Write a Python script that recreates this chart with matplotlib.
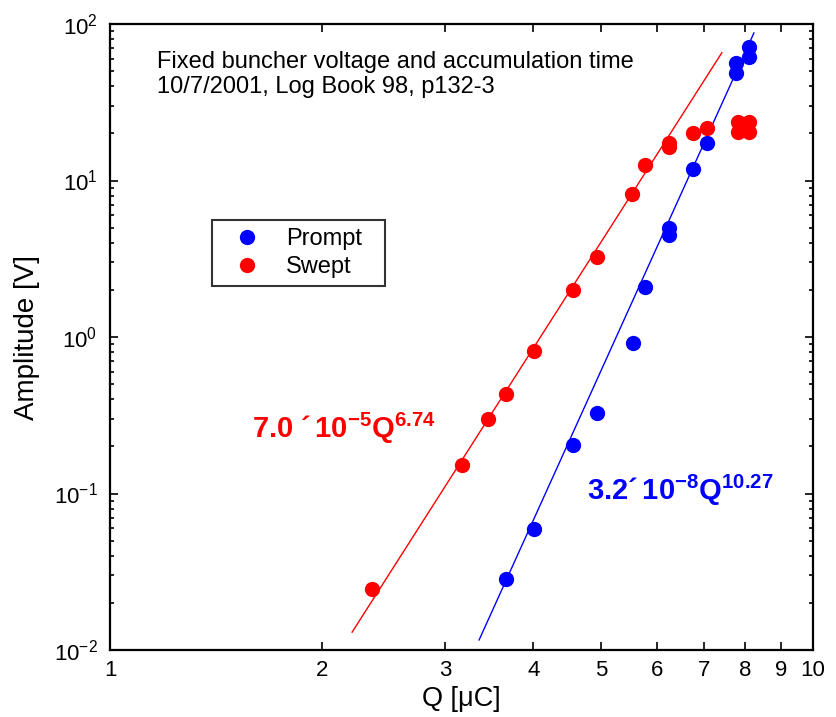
import numpy as np
from matplotlib import pyplot as plt
from matplotlib.ticker import FixedLocator, LogLocator, NullFormatter, NullLocator

plt.rcParams['font.family'] = ['Liberation Sans', 'DejaVu Sans']
plt.rcParams['mathtext.fontset'] = 'custom'
plt.rcParams['mathtext.rm'] = 'Liberation Sans'
plt.rcParams['mathtext.bf'] = 'Liberation Sans:bold'
plt.rcParams['mathtext.default'] = 'regular'

# prompt signal amplitude vs charge
prompt_q = [3.66, 4.01, 4.56, 4.93, 5.55, 5.77, 6.24, 6.24, 6.75, 7.07, 7.77, 7.77, 8.11, 8.11]
prompt_amp = [0.0284, 0.0593, 0.204, 0.327, 0.916, 2.08, 4.97, 4.49, 11.8, 17.4, 56.4, 48.6, 71.3, 61.5]

# swept signal amplitude vs charge
swept_q = [2.36, 3.17, 3.45, 3.66, 4.01, 4.56, 4.93, 5.53, 5.77, 6.24, 6.24, 6.75, 7.07, 7.82, 7.82, 8.11, 8.11]
swept_amp = [0.0245, 0.152, 0.299, 0.432, 0.814, 2.0, 3.24, 8.2, 12.6, 16.4, 17.4, 20.1, 21.6, 23.7, 20.4, 23.7, 20.4]

# power law fit lines (end points)
prompt_fit_q = [3.35, 8.24]
prompt_fit_amp = [0.0116, 87.6]
swept_fit_q = [2.21, 7.42]
swept_fit_amp = [0.0130, 65.6]

x_ticks = [1, 2, 3, 4, 5, 6, 7, 8, 9, 10]

fig = plt.figure(figsize=(8.36, 7.17), dpi=100)
ax = fig.add_axes([110 / 836, 67 / 717, 703 / 836, 626 / 717])

ax.plot(swept_fit_q, swept_fit_amp, '-', color='red', lw=1)
ax.plot(prompt_fit_q, prompt_fit_amp, '-', color='blue', lw=1)
ax.plot(prompt_q, prompt_amp, 'o', color='blue', ms=11, mec='none', label='Prompt')
ax.plot(swept_q, swept_amp, 'o', color='red', ms=11, mec='none', label='Swept')

ax.set_xscale('log')
ax.set_yscale('log')
ax.set_xlim(1, 10)
ax.set_ylim(1e-2, 1e2)

ax.xaxis.set_major_locator(FixedLocator(x_ticks))
ax.xaxis.set_minor_locator(NullLocator())
ax.set_xticklabels([str(t) for t in x_ticks])
ax.yaxis.set_major_locator(LogLocator(base=10))
ax.yaxis.set_minor_locator(LogLocator(base=10, subs=np.arange(2, 10)))
ax.yaxis.set_minor_formatter(NullFormatter())

ax.tick_params(which='both', direction='in', top=True, right=True, labelsize=16, width=1.2)
ax.tick_params(which='major', length=6)
ax.tick_params(which='minor', length=3)
ax.tick_params(axis='x', pad=7)
ax.tick_params(axis='y', pad=9)
for s in ax.spines.values():
    s.set_linewidth(1.6)

ax.set_xlabel('Q [μC]', fontsize=19.5, labelpad=4)
ax.set_ylabel('Amplitude [V]', fontsize=20, labelpad=10)

ax.text(0.067, 0.957, 'Fixed buncher voltage and accumulation time\n10/7/2001, Log Book 98, p132-3',
        transform=ax.transAxes, fontsize=17, va='top', ha='left', linespacing=1.2)

ax.text(0.202, 0.339, r'$\mathbf{7.0\;´\,10^{-5}Q^{6.74}}$', transform=ax.transAxes,
        color='red', fontsize=21, va='baseline', ha='left')
ax.text(0.6785, 0.240, r'$\mathbf{3.2´\,10^{-8}Q^{10.27}}$', transform=ax.transAxes,
        color='blue', fontsize=21, va='baseline', ha='left')

leg = ax.legend(loc='upper left', bbox_to_anchor=(0.145, 0.585, 0.246, 0.102), mode='expand',
                fontsize=17, frameon=True, fancybox=False, edgecolor='black', borderpad=0.35,
                labelspacing=0.25, handlelength=2.3, handletextpad=0.5, borderaxespad=0)
leg.get_frame().set_linewidth(1.5)

plt.savefig('out.png', dpi=100)
